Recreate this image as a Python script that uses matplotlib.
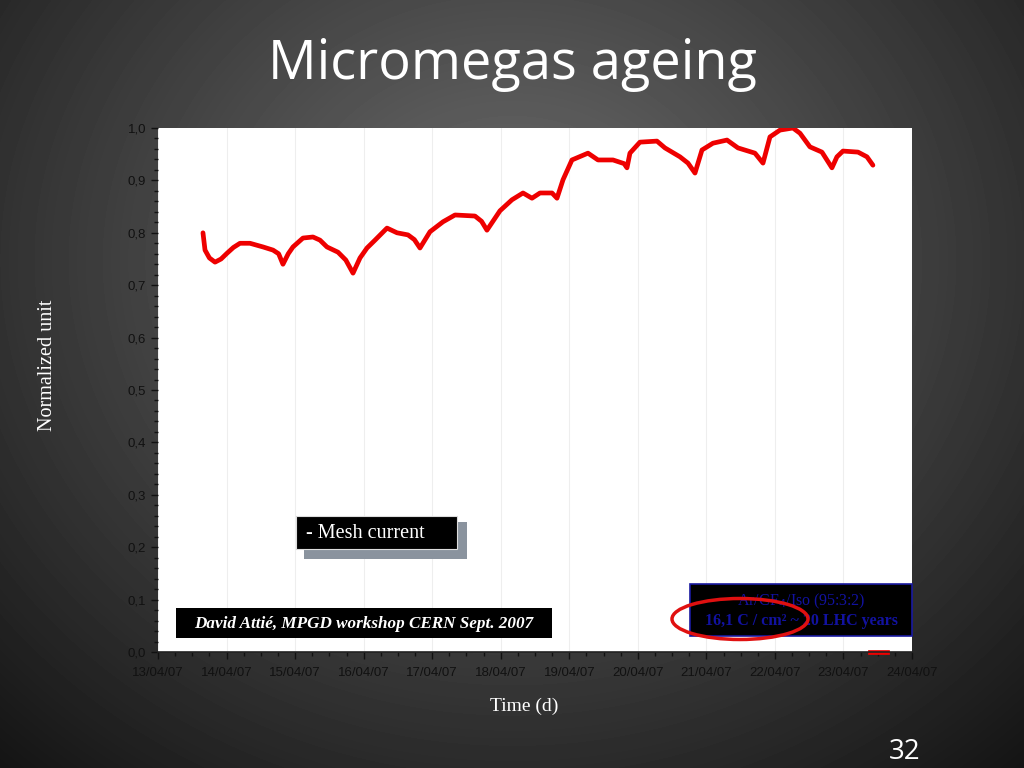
import datetime as dt
import numpy as np
import matplotlib
matplotlib.use('Agg')
import matplotlib.pyplot as plt
import matplotlib.dates as mdates
from matplotlib.patches import Rectangle, Ellipse

# mesh current, days after 13/04/07 00:00 and normalized value
days = [0.656, 0.686, 0.750, 0.832, 0.920, 1.007, 1.100, 1.196, 1.342, 1.532, 1.678, 1.760, 1.823,
        1.900, 1.969, 2.115, 2.261, 2.363, 2.465, 2.626, 2.740, 2.845, 2.947, 3.049, 3.166,
        3.341, 3.487, 3.647, 3.740, 3.822, 3.968, 4.158, 4.333, 4.624, 4.720, 4.799, 4.989,
        5.164, 5.325, 5.456, 5.573, 5.748, 5.821, 5.908, 6.039, 6.273, 6.419, 6.638, 6.800,
        6.842, 6.885, 7.031, 7.279, 7.396, 7.615, 7.732, 7.834, 7.936, 8.096, 8.301, 8.461,
        8.709, 8.826, 8.928, 9.074, 9.263, 9.366, 9.511, 9.686, 9.832, 9.905, 9.993,
        10.212, 10.343, 10.430]
current = [0.800, 0.767, 0.752, 0.744, 0.750, 0.761, 0.772, 0.780, 0.780, 0.773, 0.767, 0.760, 0.740,
           0.760, 0.773, 0.790, 0.792, 0.786, 0.773, 0.763, 0.748, 0.723, 0.752, 0.771, 0.786,
           0.809, 0.800, 0.796, 0.787, 0.771, 0.802, 0.821, 0.834, 0.832, 0.822, 0.805, 0.842,
           0.863, 0.876, 0.866, 0.876, 0.876, 0.866, 0.901, 0.939, 0.952, 0.939, 0.939, 0.932,
           0.924, 0.952, 0.973, 0.975, 0.962, 0.945, 0.933, 0.914, 0.958, 0.971, 0.977, 0.962,
           0.952, 0.933, 0.983, 0.996, 1.000, 0.990, 0.964, 0.954, 0.924, 0.945, 0.956,
           0.954, 0.945, 0.929]
zero_days = [10.39, 10.63]
zero_vals = [0.0, 0.0]

start = dt.datetime(2007, 4, 13)
t = [start + dt.timedelta(days=d) for d in days]
t0 = [start + dt.timedelta(days=d) for d in zero_days]

W, H = 1024, 768
fig = plt.figure(figsize=(W / 100, H / 100), dpi=100)

# slide background: radial grey gradient
bg = fig.add_axes([0, 0, 1, 1])
yy, xx = np.mgrid[0:H, 0:W]
r = np.sqrt(((xx - 512) / 720.0) ** 2 + ((yy - 260) / 640.0) ** 2)
img = np.clip(0.43 - 0.33 * r, 0.08, 1)
bg.imshow(img, cmap='gray', vmin=0, vmax=1, extent=[0, W, H, 0], aspect='auto')
bg.set_xlim(0, W)
bg.set_ylim(H, 0)
bg.axis('off')

def fx(px):
    return px / W

def fy(py):
    return 1 - py / H

ax = fig.add_axes([fx(158), fy(652), fx(912) - fx(158), fy(128) - fy(652)])
ax.set_facecolor('white')
ax.plot(t, current, color='#ee0000', lw=3.4, solid_capstyle='round', solid_joinstyle='round')
ax.plot(t0, zero_vals, color='#ee0000', lw=3.4, clip_on=False)

ax.set_xlim(start, start + dt.timedelta(days=11))
ax.set_ylim(0, 1.0)
ax.xaxis.set_major_locator(mdates.DayLocator())
ax.xaxis.set_minor_locator(mdates.HourLocator(byhour=[6, 12, 18]))
ax.xaxis.set_major_formatter(mdates.DateFormatter('%d/%m/%y'))
ax.set_yticks(np.arange(0, 1.01, 0.1))
ax.set_yticks(np.arange(0, 1.001, 0.02), minor=True)
ax.yaxis.set_major_formatter(plt.FuncFormatter(lambda v, p: '{:.1f}'.format(v).replace('.', ',')))
ax.grid(axis='x', which='major', color='#eeeeee', lw=0.8)
for s in ['left', 'right', 'top']:
    ax.spines[s].set_visible(False)
ax.spines['bottom'].set_color('#222222')
ax.spines['bottom'].set_linewidth(1.2)
ax.tick_params(which='both', colors='#111111', labelsize=9.5, direction='out')
ax.tick_params(which='major', length=5, width=1)
ax.tick_params(which='minor', length=3, width=1)
ax.tick_params(axis='x', pad=6)
for lab in ax.get_xticklabels() + ax.get_yticklabels():
    lab.set_family('Liberation Sans')

fig.text(0.5, fy(65), 'Micromegas ageing', color='white', ha='center', va='center',
         fontsize=39, family='Open Sans')
fig.text(fx(48), fy(365), 'Normalized unit', color='white', ha='center', va='center',
         rotation=90, fontsize=14.5, family='Liberation Serif')
fig.text(fx(524), fy(706), 'Time (d)', color='white', ha='center', va='center',
         fontsize=14, family='Liberation Serif')

def box(x0, y0, x1, y1, fc, ec='none', lw=0.0):
    fig.patches.append(Rectangle((fx(x0), fy(y1)), fx(x1) - fx(x0), fy(y0) - fy(y1),
                                 transform=fig.transFigure, fc=fc, ec=ec, lw=lw, zorder=5))

box(304, 522, 467, 559, '#8a939e')
box(296, 516, 457, 549, 'black', ec='#dddddd', lw=0.8)
fig.text(fx(306), fy(533), '- Mesh current', color='white', ha='left', va='center',
         fontsize=14.5, family='Liberation Serif', zorder=6)

box(176, 608, 552, 638, 'black')
fig.text(fx(364), fy(624), 'David Attié, MPGD workshop CERN Sept. 2007', color='white',
         ha='center', va='center', fontsize=12.3, family='Liberation Serif',
         weight='bold', style='italic', zorder=6)

box(690, 584, 912, 636, 'black', ec='#1a1aa0', lw=1.2)
fig.text(fx(801), fy(601), 'Ar/CF$_4$/Iso (95:3:2)', color='#1212a0', ha='center',
         va='center', fontsize=11.5, family='Liberation Serif', zorder=6)
fig.text(fx(801), fy(621), '16,1 C / cm² ~ 20 LHC years', color='#1212a0', ha='center',
         va='center', fontsize=11.5, family='Liberation Serif', weight='bold', zorder=6)
fig.patches.append(Ellipse((fx(740), fy(619)), fx(136), 41 / H, transform=fig.transFigure,
                           fc='none', ec='#e01010', lw=2.5, zorder=7))

fig.text(fx(905), fy(752), '32', color='white', ha='center', va='center', fontsize=20,
         family='Open Sans')

fig.savefig('out.png', dpi=100)
